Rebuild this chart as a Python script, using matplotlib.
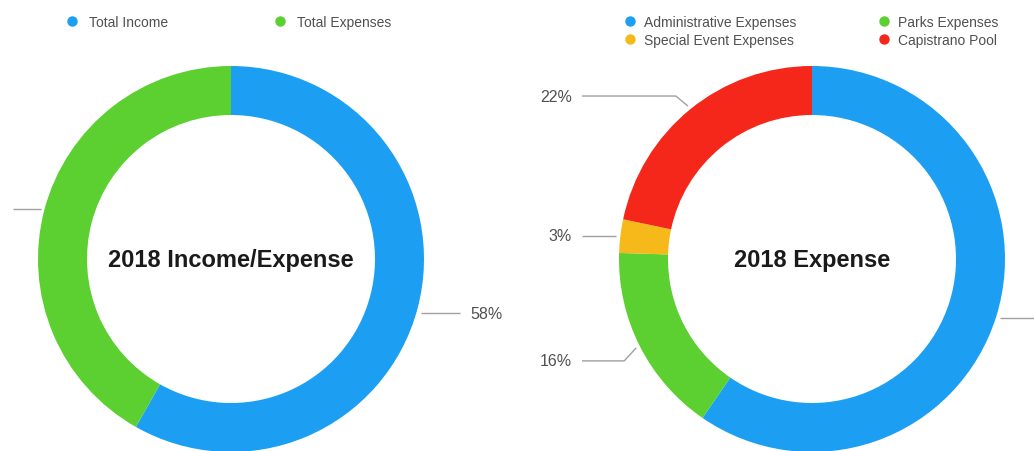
from matplotlib import pyplot as plt
from matplotlib.lines import Line2D
import numpy as np

plt.rcParams['font.family'] = ['Liberation Sans', 'DejaVu Sans']

# left chart: income vs expense
ie_labels = ['Total Income', 'Total Expenses']
ie_values = [58.2, 41.8]
ie_text = ['58%', '42%']
ie_colors = ['#1c9ff2', '#5ccf31']

# right chart: expense breakdown
ex_labels = ['Administrative Expenses', 'Parks Expenses', 'Special Event Expenses', 'Capistrano Pool']
ex_values = [59.6, 15.9, 2.8, 21.7]
ex_text = ['60%', '16%', '3%', '22%']
ex_colors = ['#1c9ff2', '#5ccf31', '#f6b91a', '#f5271a']

W, H = 1034, 452
RADIUS = 193
RING = 49
LINE_COLOR = '#a0a0a0'
TEXT_COLOR = '#505050'


def draw_donut(ax, center, values, colors, title):
    ax.pie(values, colors=colors, startangle=90, counterclock=False,
           center=center, radius=RADIUS, frame=True,
           wedgeprops=dict(width=RING, linewidth=0))
    ax.text(center[0], center[1], title, ha='center', va='center',
            fontsize=17, fontweight='bold', color='#1a1a1a')


def draw_labels(ax, center, values, texts, line_x, nudges, gaps):
    total = float(sum(values))
    cum = np.cumsum(values) - np.array(values) / 2.0
    for i in range(len(values)):
        theta = np.deg2rad(90 - 360 * cum[i] / total)
        ax_x = center[0] + (RADIUS + 4) * np.cos(theta)
        ax_y = center[1] + (RADIUS + 4) * np.sin(theta)
        side = 1 if np.cos(theta) > 0 else -1
        end_x = line_x[0] if side > 0 else line_x[1]
        ly = ax_y + nudges[i]
        if abs(nudges[i]) > 6:
            # bent leader line
            xs = [ax_x, ax_x + side * 12, end_x]
            ys = [ax_y, ly, ly]
        else:
            xs = [ax_x, end_x]
            ys = [ly, ly]
        ax.plot(xs, ys, color=LINE_COLOR, lw=1, solid_capstyle='butt')
        ax.text(end_x + side * gaps[i], ly, texts[i], ha='left' if side > 0 else 'right',
                va='center', fontsize=11.5, color=TEXT_COLOR)


fig = plt.figure(figsize=(W / 100, H / 100), dpi=100)
ax = fig.add_axes([0, 0, 1, 1])

left_c = (231, H - 260)
right_c = (812, H - 260)

draw_donut(ax, left_c, ie_values, ie_colors, '2018 Income/Expense')
draw_donut(ax, right_c, ex_values, ex_colors, '2018 Expense')

# the 42% and 60% texts sit past the picture edge, as in the source
draw_labels(ax, left_c, ie_values, ie_text, (460, 13), [-4, 0], [10, 22])
draw_labels(ax, right_c, ex_values, ex_text, (1045, 582), [0, -13, 0, 10], [12, 10, 10, 10])

ax.set_xlim(0, W)
ax.set_ylim(0, H)
ax.set_aspect('equal')
ax.axis('off')


def make_handles(labels, colors):
    return [Line2D([], [], marker='o', linestyle='none', markersize=7.5,
                   markerfacecolor=c, markeredgecolor='none', label=l)
            for l, c in zip(labels, colors)]


leg1 = fig.legend(handles=make_handles(ie_labels, ie_colors), ncol=2,
                  loc='upper left', bbox_to_anchor=(65 / W, 1 - 16 / H),
                  frameon=False, fontsize=10, handlelength=1.0, handletextpad=0.7,
                  columnspacing=7.6, borderpad=0, borderaxespad=0)
for t in leg1.get_texts():
    t.set_color(TEXT_COLOR)

order = [0, 2, 1, 3]
leg2 = fig.legend(handles=[make_handles(ex_labels, ex_colors)[i] for i in order], ncol=2,
                  loc='upper left', bbox_to_anchor=(623 / W, 1 - 16 / H),
                  frameon=False, fontsize=10, handlelength=1.0, handletextpad=0.5,
                  columnspacing=5.85, labelspacing=0.3, borderpad=0, borderaxespad=0)
for t in leg2.get_texts():
    t.set_color(TEXT_COLOR)

fig.savefig('out.png', dpi=100)
